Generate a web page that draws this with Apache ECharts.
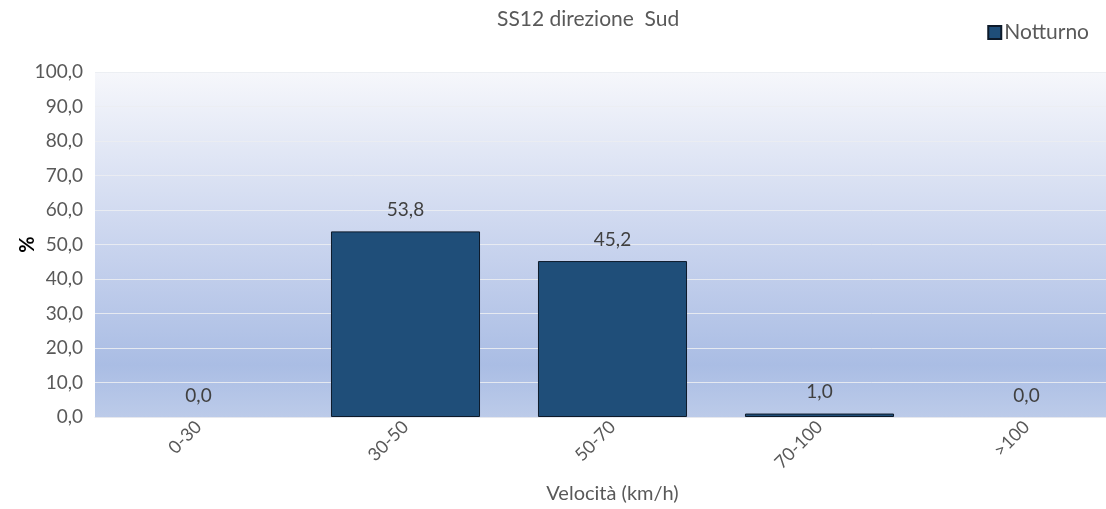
<!DOCTYPE html>
<html>
<head>
<meta charset="utf-8">
<script src="https://cdn.jsdelivr.net/npm/echarts@6/dist/echarts.min.js"></script>
<style>
  html, body { margin: 0; padding: 0; background: #fff; overflow: hidden; }
  /* il grafico originale è tagliato a destra */
  #chart { width: 1130px; height: 509px; }
</style>
</head>
<body>
<div id="chart"></div>
<script>
// fasce di velocità
var categories = ["0-30", "30-50", "50-70", "70-100", ">100"];
// percentuali notturno
var notturno = [0.0, 53.8, 45.2, 1.0, 0.0];
var seriesName = "Notturno";
var chartTitle = "SS12 direzione  Sud";

var fontFamily = "Lato, 'Open Sans', sans-serif";
var grey = "#595959";

function fmt(v) {
  return v.toFixed(1).replace(".", ",");
}

var chart = echarts.init(document.getElementById("chart"));
chart.setOption({
  animation: false,
  textStyle: { fontFamily: fontFamily },
  title: {
    text: chartTitle,
    left: 492,
    top: 4,
    textStyle: { fontSize: 21, fontWeight: "normal", color: grey, fontFamily: fontFamily }
  },
  legend: {
    data: [seriesName],
    right: 36,
    top: 17,
    itemWidth: 13,
    itemHeight: 13,
    itemGap: 4,
    icon: "rect",
    textStyle: { fontSize: 21, color: grey, padding: [0, 0, 0, -2] }
  },
  grid: {
    left: 95,
    right: 0,
    top: 72,
    bottom: 92,
    outerBoundsMode: "none",
    show: true,
    borderWidth: 0,
    //sfondo sfumato
    backgroundColor: new echarts.graphic.LinearGradient(0, 0, 0, 1, [
      { offset: 0, color: "#f6f7fb" },
      { offset: 0.5, color: "#c9d4ee" },
      { offset: 0.85, color: "#aabde4" },
      { offset: 1, color: "#bccbe9" }
    ])
  },
  xAxis: {
    type: "category",
    data: categories,
    name: "Velocità (km/h)",
    nameLocation: "middle",
    nameGap: 67,
    nameMoveOverlap: false,
    nameTextStyle: { fontSize: 20, color: grey },
    axisTick: { show: false },
    axisLine: { lineStyle: { color: "#e6e8ee" } },
    axisLabel: { rotate: 45, fontSize: 18, color: grey, margin: 7 }
  },
  yAxis: {
    type: "value",
    min: 0,
    max: 100,
    interval: 10,
    name: "%",
    nameLocation: "middle",
    nameRotate: 90,
    nameGap: 57,
    nameMoveOverlap: false,
    nameTextStyle: { fontSize: 20, fontWeight: "bold", color: "#000" },
    axisLine: { show: false },
    axisTick: { show: false },
    splitLine: { lineStyle: { color: "rgba(235,237,242,0.9)", width: 1 } },
    axisLabel: {
      fontSize: 19,
      color: grey,
      margin: 12,
      formatter: fmt
    }
  },
  series: [
    {
      name: seriesName,
      type: "bar",
      // le barre a zero non hanno bordo
      data: notturno.map(function (v) {
        return v === 0 ? { value: v, itemStyle: { borderWidth: 0 } } : v;
      }),
      barCategoryGap: "28%",
      itemStyle: { color: "#1f4e79", borderColor: "#0d1a2a", borderWidth: 1 },
      label: {
        show: true,
        position: "top",
        distance: 12,
        fontSize: 19,
        color: "#404040",
        formatter: function (p) { return fmt(p.value); }
      }
    }
  ]
});
</script>
</body>
</html>
